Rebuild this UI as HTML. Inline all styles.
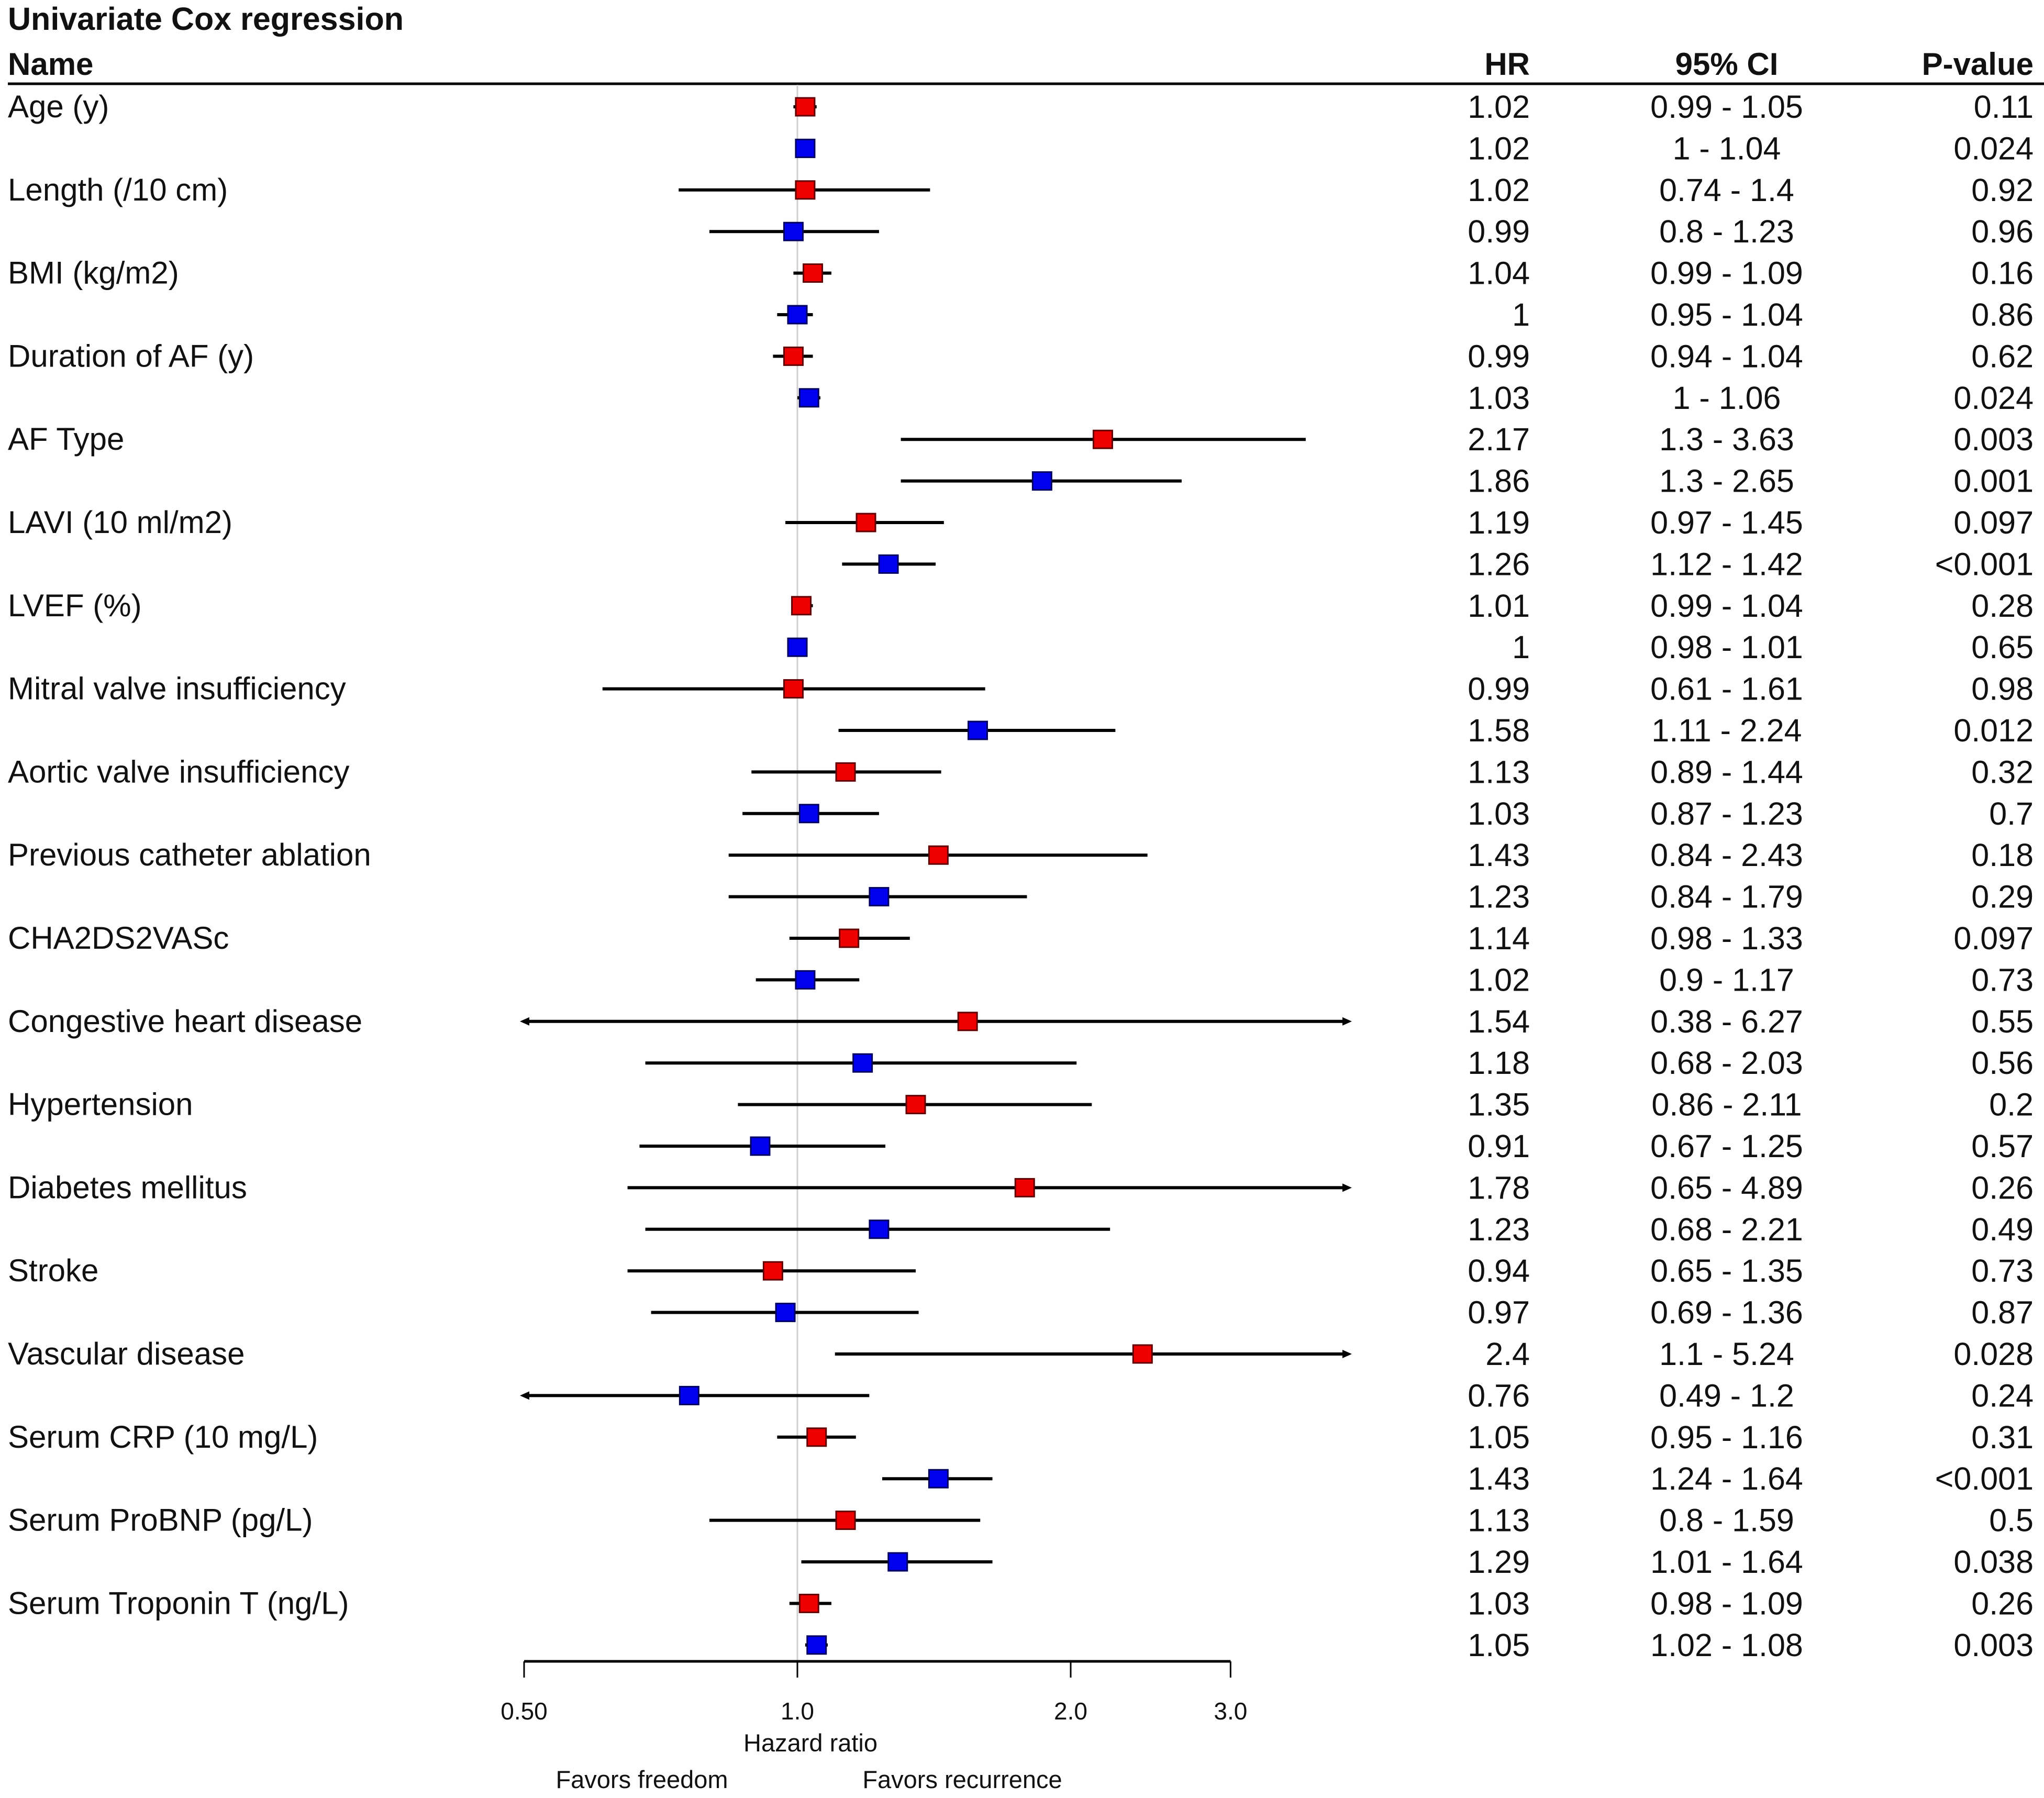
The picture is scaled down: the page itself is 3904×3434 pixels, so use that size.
<!DOCTYPE html>
<html><head><meta charset="utf-8"><style>
html,body{margin:0;padding:0;background:#fff}
svg{display:block}
text{font-family:"Liberation Sans",Arial,sans-serif;fill:#111}
</style></head><body>
<svg id="chart" width="3904" height="3434" viewBox="0 0 3904 3434" xmlns="http://www.w3.org/2000/svg">
<text x="15" y="57" font-size="61" font-weight="bold">Univariate Cox regression</text>
<text x="15" y="143" font-size="60" font-weight="bold">Name</text>
<text x="2922" y="143" font-size="60" font-weight="bold" text-anchor="end">HR</text>
<text x="3298" y="143" font-size="60" font-weight="bold" text-anchor="middle">95% CI</text>
<text x="3884" y="143" font-size="60" font-weight="bold" text-anchor="end">P-value</text>
<line x1="15" y1="160" x2="3904" y2="160" stroke="#000" stroke-width="5"/>
<g id="plot"></g>
</svg>
<script>
const names = ["Age (y)","Length (/10 cm)","BMI (kg/m2)","Duration of AF (y)","AF Type","LAVI (10 ml/m2)","LVEF (%)","Mitral valve insufficiency","Aortic valve insufficiency","Previous catheter ablation","CHA2DS2VASc","Congestive heart disease","Hypertension","Diabetes mellitus","Stroke","Vascular disease","Serum CRP (10 mg/L)","Serum ProBNP (pg/L)","Serum Troponin T (ng/L)"];
const hr = [1.02,1.02,1.02,0.99,1.04,1,0.99,1.03,2.17,1.86,1.19,1.26,1.01,1,0.99,1.58,1.13,1.03,1.43,1.23,1.14,1.02,1.54,1.18,1.35,0.91,1.78,1.23,0.94,0.97,2.4,0.76,1.05,1.43,1.13,1.29,1.03,1.05];
const lower = [0.99,1,0.74,0.8,0.99,0.95,0.94,1,1.3,1.3,0.97,1.12,0.99,0.98,0.61,1.11,0.89,0.87,0.84,0.84,0.98,0.9,0.38,0.68,0.86,0.67,0.65,0.68,0.65,0.69,1.1,0.49,0.95,1.24,0.8,1.01,0.98,1.02];
const upper = [1.05,1.04,1.4,1.23,1.09,1.04,1.04,1.06,3.63,2.65,1.45,1.42,1.04,1.01,1.61,2.24,1.44,1.23,2.43,1.79,1.33,1.17,6.27,2.03,2.11,1.25,4.89,2.21,1.35,1.36,5.24,1.2,1.16,1.64,1.59,1.64,1.09,1.08];
const pvals = ["0.11","0.024","0.92","0.96","0.16","0.86","0.62","0.024","0.003","0.001","0.097","<0.001","0.28","0.65","0.98","0.012","0.32","0.7","0.18","0.29","0.097","0.73","0.55","0.56","0.2","0.57","0.26","0.49","0.73","0.87","0.028","0.24","0.31","<0.001","0.5","0.038","0.26","0.003"];
const ticks = [0.5,1,2,3];
const tickLabels = ["0.50","1.0","2.0","3.0"];

const NS="http://www.w3.org/2000/svg";
const g=document.getElementById('plot');
const X0=1523, PX=522, XMIN=1001, XMAX=2574;
const xs=v=>X0+PX*Math.log2(v);
const ys=i=>204+i*79.4;
function mk(tag,attrs,txt){const e=document.createElementNS(NS,tag);for(const k in attrs)e.setAttribute(k,attrs[k]);if(txt!==undefined)e.textContent=txt;g.appendChild(e);return e;}
function fmt(v){return String(v);}

let e=mk('line',{x1:X0,y1:162,x2:X0,y2:3173,stroke:'#cfcfcf','stroke-width':3});



names.forEach((n,k)=>{
  const t=mk('text',{x:15,y:ys(2*k)+20,'font-size':60},n);
  
  
});

hr.forEach((h,i)=>{
  const y=ys(i);
  let lo=xs(lower[i]),hi=xs(upper[i]);
  const clipL=lo<XMIN, clipR=hi>XMAX;
  lo=Math.max(lo,XMIN);hi=Math.min(hi,XMAX);
  const l=mk('line',{x1:lo,y1:y,x2:hi,y2:y,stroke:'#000','stroke-width':6});
  
  
  if(clipR){const a=mk('polygon',{points:`${XMAX+8},${y} ${XMAX-10},${y-8} ${XMAX-10},${y+8}`,fill:'#000'});
    
    }
  if(clipL){const a=mk('polygon',{points:`${XMIN-8},${y} ${XMIN+10},${y-8} ${XMIN+10},${y+8}`,fill:'#000'});
    
    }
  const b=mk('rect',{x:xs(h)-18,y:y-17,width:36,height:34,fill:i%2?'#0000ee':'#ee0000',stroke:i%2?'#000060':'#600000','stroke-width':3});
  
  
  const t1=mk('text',{x:2922,y:y+21,'font-size':61,'text-anchor':'end'},fmt(h));
  
  
  const t2=mk('text',{x:3298,y:y+21,'font-size':61,'text-anchor':'middle'},fmt(lower[i])+' - '+fmt(upper[i]));
  
  
  const t3=mk('text',{x:3884,y:y+21,'font-size':61,'text-anchor':'end'},pvals[i]);
  
  
});

e=mk('line',{x1:xs(0.5),y1:3173,x2:xs(3),y2:3173,stroke:'#000','stroke-width':5});


ticks.forEach((v,i)=>{
  const tk=mk('line',{x1:xs(v),y1:3173,x2:xs(v),y2:3204,stroke:'#000','stroke-width':3});
  
  
  const tl=mk('text',{x:xs(v),y:3284,'font-size':46,'text-anchor':'middle'},tickLabels[i]);
  
  
});
e=mk('text',{x:1548,y:3345,'font-size':47,'text-anchor':'middle'},'Hazard ratio');


e=mk('text',{x:1226,y:3415,'font-size':47,'text-anchor':'middle'},'Favors freedom');


e=mk('text',{x:1838,y:3415,'font-size':47,'text-anchor':'middle'},'Favors recurrence');


</script>
</body></html>
